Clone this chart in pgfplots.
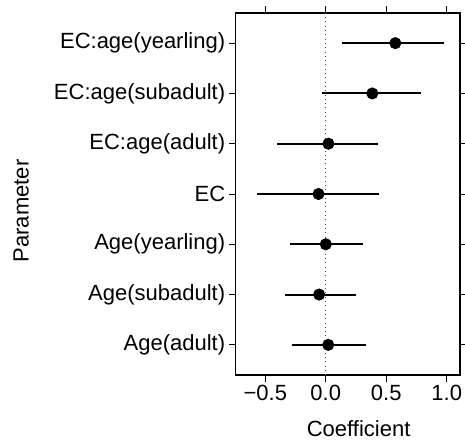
\documentclass[border=0pt]{standalone}
\usepackage{pgfplots}
\pgfplotsset{compat=1.18}
\usepackage{pgfplotstable}
\usepackage{fontspec}
\setmainfont{Liberation Sans}

% row = position on the y axis (1 = bottom)
\pgfplotstableread{
row est lo hi
7 0.575 0.13 0.975
6 0.385 -0.03 0.79
5 0.022 -0.40 0.43
4 -0.06 -0.57 0.44
3 0.0 -0.30 0.31
2 -0.055 -0.34 0.25
1 0.02 -0.28 0.335
}\coefs

\begin{document}
\begin{tikzpicture}
\useasboundingbox (0,0) rectangle (465pt,442pt);
\begin{axis}[
  at={(235.7pt,67pt)}, anchor=south west,
  width=224.3pt, height=362pt, scale only axis,
  xmin=-0.745, xmax=1.11,
  ymin=0.4, ymax=7.6,
  xtick={-0.5,0,0.5,1},
  xticklabels={−0.5,0.0,0.5,1.0},
  ytick={1,2,3,4,5,6,7},
  yticklabels={Age(adult),Age(subadult),Age(yearling),EC,EC:age(adult),EC:age(subadult),EC:age(yearling)},
  tick align=outside,
  major tick length=7pt,
  tick style={black, line width=1pt},
  axis line style={black, line width=1.1pt},
  tick label style={font=\fontsize{22}{26}\selectfont},
  label style={font=\fontsize{22}{26}\selectfont},
  xlabel={Coefficient},
  ylabel={Parameter},
  xlabel style={at={(axis description cs:0.548,-0.171)}, anchor=base},
  ylabel style={at={(axis description cs:-0.957,0.453)}, anchor=center},
  clip=false
]
% zero reference line
\addplot[black!70, line width=0.9pt, dash pattern=on 0.9pt off 3.4pt] coordinates {(0,0.4) (0,7.6)};

\addplot[black, line width=2pt, mark=*, mark size=5pt, only marks,
  error bars/.cd, x dir=both, x explicit, error mark=none,
  error bar style={line width=2pt}]
  table[x=est, y=row,
        x error plus expr=\thisrow{hi}-\thisrow{est},
        x error minus expr=\thisrow{est}-\thisrow{lo}] {\coefs};
\end{axis}
\end{tikzpicture}
\end{document}
